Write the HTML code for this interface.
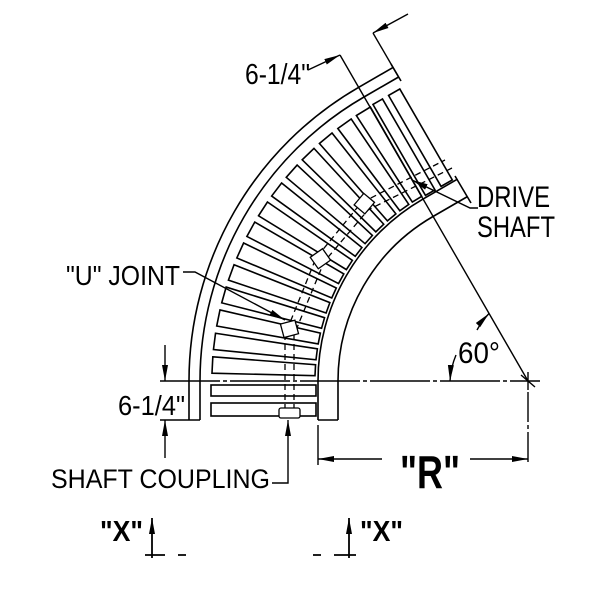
<!DOCTYPE html>
<html><head><meta charset="utf-8"><style>
body{margin:0;background:#fff}
svg{display:block}
text{font-family:"Liberation Sans",sans-serif;fill:#000}
</style></head><body>
<svg width="600" height="600" viewBox="0 0 600 600" xmlns="http://www.w3.org/2000/svg">
<defs>
<marker id="ar" markerWidth="16" markerHeight="8" refX="16" refY="4" orient="auto" markerUnits="userSpaceOnUse"><path d="M0,1 L16,4 L0,7 Z" fill="#000"/></marker>
</defs>
<g fill="none" stroke="#000" stroke-width="1.6">
<path d="M189,420 L189,381 A339,339 0 0 1 358.5,87.4 L393.1,67.4"/>
<path d="M200,420 L200,381 A328,328 0 0 1 364,97 L398.6,77"/>
<path d="M318,420 L318,381 A210,210 0 0 1 423,199.1 L457.6,179.1"/>
<path d="M338,420 L338,381 A190,190 0 0 1 433,216.5 L467.6,196.5"/>
<path d="M189,420 L200,420 M318,420 L338,420"/>
<path d="M391,64 L401,81 M455,176 L471,203"/>
<rect x="211" y="385" width="105" height="11"/>
<rect x="211" y="403" width="105" height="13"/>
<g transform="rotate(60 528 381)">
<rect x="211" y="366" width="105" height="11"/>
<rect x="211" y="346" width="105" height="13"/>
</g>
<polygon points="212,372.8 315,375.5 315,386.5 212,389.2" transform="rotate(2.9 528 381)"/>
<polygon points="212,372.8 315,375.5 315,386.5 212,389.2" transform="rotate(7.2 528 381)"/>
<polygon points="212,372.8 315,375.5 315,386.5 212,389.2" transform="rotate(11.5 528 381)"/>
<polygon points="212,372.8 315,375.5 315,386.5 212,389.2" transform="rotate(15.8 528 381)"/>
<polygon points="212,372.8 315,375.5 315,386.5 212,389.2" transform="rotate(20.1 528 381)"/>
<polygon points="212,372.8 315,375.5 315,386.5 212,389.2" transform="rotate(24.4 528 381)"/>
<polygon points="212,372.8 315,375.5 315,386.5 212,389.2" transform="rotate(28.7 528 381)"/>
<polygon points="212,372.8 315,375.5 315,386.5 212,389.2" transform="rotate(33 528 381)"/>
<polygon points="212,372.8 315,375.5 315,386.5 212,389.2" transform="rotate(37.3 528 381)"/>
<polygon points="212,372.8 315,375.5 315,386.5 212,389.2" transform="rotate(41.6 528 381)"/>
<polygon points="212,372.8 315,375.5 315,386.5 212,389.2" transform="rotate(45.9 528 381)"/>
<polygon points="212,372.8 315,375.5 315,386.5 212,389.2" transform="rotate(50.2 528 381)"/>
<polygon points="212,372.8 315,375.5 315,386.5 212,389.2" transform="rotate(54.5 528 381)"/>
<polygon points="212,372.8 315,375.5 315,386.5 212,389.2" transform="rotate(58.6 528 381)"/>
</g>
<g fill="none" stroke="#000" stroke-width="1.3" stroke-dasharray="6,4">
<polyline points="285,410 285,335 316,258 361,203 445,160"/>
<polyline points="294,410 294,335 324,262 368,210 452,168"/>
</g>
<g fill="#fff" stroke="#000" stroke-width="1.3">
<rect x="279" y="408" width="21" height="10" rx="2"/>
<rect x="282" y="322" width="15" height="14" transform="rotate(-15 289 329)"/>
<rect x="313" y="252" width="15" height="14" transform="rotate(-35 320 259)"/>
<rect x="357" y="197" width="15" height="14" transform="rotate(-50 364 204)"/>
</g>
<g fill="none" stroke="#000" stroke-width="1.4">
<path d="M160,381 L540,381" stroke-dasharray="60,3,4,3"/>
<path d="M521,375 L535,387 M528,372 L528,390"/>
<path d="M528,381 L340,55"/>
<path d="M398,76 L373,33"/>
<path d="M528,392 L528,465" stroke-dasharray="30,3,4,3"/>
<path d="M318,425 L318,465"/>
<path d="M160,420 L189,420"/>
<path d="M165,345 L165,381" marker-end="url(#ar)"/>
<path d="M165,458 L165,420" marker-end="url(#ar)"/>
<path d="M308,70 L340,55" marker-end="url(#ar)"/>
<path d="M408,14 L373,33" marker-end="url(#ar)"/>
<path d="M382,459 L318,459" marker-end="url(#ar)"/>
<path d="M470,459 L528,459" marker-end="url(#ar)"/>
<path d="M456,355 A78,78 0 0 0 450,381" marker-end="url(#ar)"/>
<path d="M477,330 A78,78 0 0 1 489,313.5" marker-end="url(#ar)"/>
<path d="M183,272 L195,272 L285,320" marker-end="url(#ar)"/>
<path d="M478,208 L470,208 L412,180" marker-end="url(#ar)"/>
<path d="M272,483 L288,483 L288,420" marker-end="url(#ar)"/>
<path d="M152,558 L152,518" stroke-width="1.8" marker-end="url(#ar)"/>
<path d="M145,555 L165,555 M178,555 L186,555" stroke-width="1.8"/>
<path d="M349,558 L349,518" stroke-width="1.8" marker-end="url(#ar)"/>
<path d="M334,555 L356,555 M313,555 L321,555" stroke-width="1.8"/>
</g>
<text x="245" y="84" font-size="29" textLength="65" lengthAdjust="spacingAndGlyphs">6-1/4"</text>
<text x="118" y="415" font-size="28" textLength="67" lengthAdjust="spacingAndGlyphs">6-1/4"</text>
<text x="458" y="363" font-size="30" textLength="42" lengthAdjust="spacingAndGlyphs">60°</text>
<text x="477" y="207" font-size="30" textLength="73" lengthAdjust="spacingAndGlyphs">DRIVE</text>
<text x="477" y="237" font-size="30" textLength="78" lengthAdjust="spacingAndGlyphs">SHAFT</text>
<text x="66" y="285" font-size="28" textLength="114" lengthAdjust="spacingAndGlyphs">"U" JOINT</text>
<text x="51" y="488" font-size="27" textLength="219" lengthAdjust="spacingAndGlyphs">SHAFT COUPLING</text>
<text x="400" y="488" font-size="46" font-weight="bold" textLength="60" lengthAdjust="spacingAndGlyphs">"R"</text>
<text x="100" y="541" font-size="29" font-weight="bold" textLength="43" lengthAdjust="spacingAndGlyphs">"X"</text>
<text x="360" y="541" font-size="29" font-weight="bold" textLength="43" lengthAdjust="spacingAndGlyphs">"X"</text>
</svg>
</body></html>
